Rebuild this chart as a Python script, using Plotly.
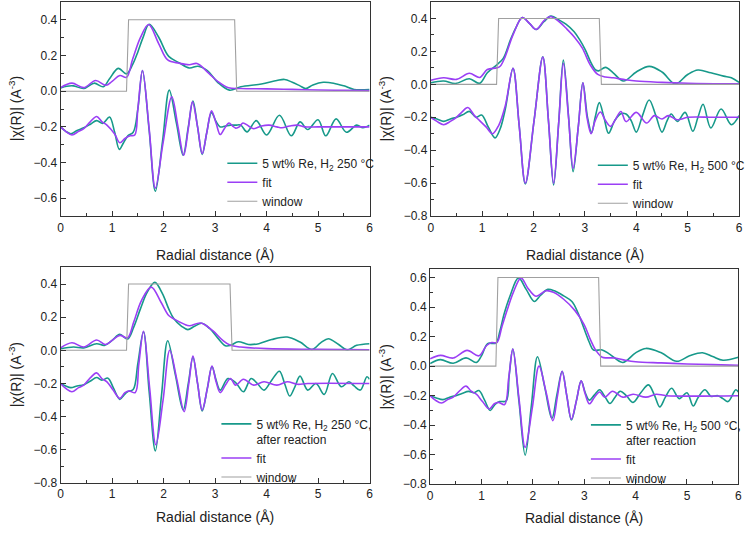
import plotly.graph_objects as go

TEAL = "#17998a"
PURPLE = "#9b3ff5"
GRAY = "#a0a0a0"

# ---------------- Panel 1 : 5 wt% Re, H2 250 °C ----------------
p1_dmag_x = [0, 0.12, 0.25, 0.45, 0.65, 0.83, 0.95, 1.12, 1.28, 1.4, 1.5, 1.6, 1.72, 1.9, 2.1, 2.3, 2.5, 2.67, 2.85, 3.05, 3.28, 3.5, 3.9, 4.2, 4.35, 4.5, 4.65, 4.76, 4.9, 5.1, 5.3, 5.5, 5.7, 6.0]
p1_dmag_y = [0.018, 0.028, 0.03, 0.015, 0.045, 0.025, 0.07, 0.128, 0.097, 0.15, 0.22, 0.3, 0.375, 0.305, 0.195, 0.16, 0.13, 0.14, 0.115, 0.05, 0.006, 0.025, 0.04, 0.06, 0.066, 0.05, 0.03, 0.015, 0.035, 0.05, 0.045, 0.03, 0.01, 0.01]
p1_fmag_x = [0, 0.22, 0.45, 0.68, 0.88, 1.0, 1.15, 1.28, 1.4, 1.55, 1.71, 1.9, 2.08, 2.3, 2.5, 2.65, 2.88, 3.05, 3.26, 3.5, 4.0, 4.5, 5.0, 5.5, 6.0]
p1_fmag_y = [0.02, 0.045, 0.02, 0.06, 0.033, 0.055, 0.088, 0.078, 0.18, 0.3, 0.374, 0.27, 0.175, 0.157, 0.148, 0.155, 0.1, 0.055, 0.019, 0.015, 0.013, 0.01, 0.007, 0.005, 0.003]
p1_dre_x = [0, 0.1, 0.2, 0.32, 0.45, 0.58, 0.7, 0.82, 0.95, 1.05, 1.14, 1.22, 1.31, 1.41, 1.5, 1.59, 1.72, 1.84, 1.98, 2.11, 2.25, 2.38, 2.48, 2.57, 2.66, 2.75, 2.84, 2.93, 3.02, 3.1, 3.2, 3.3, 3.4, 3.5, 3.62, 3.8, 4.0, 4.25, 4.48, 4.65, 4.8, 5.0, 5.15, 5.35, 5.55, 5.75, 5.87, 6.0]
p1_dre_y = [-0.2, -0.225, -0.238, -0.22, -0.205, -0.185, -0.165, -0.18, -0.145, -0.23, -0.326, -0.29, -0.249, -0.23, -0.1, 0.116, -0.22, -0.561, -0.28, 0.006, -0.18, -0.359, -0.2, -0.055, -0.2, -0.354, -0.23, -0.12, -0.17, -0.2, -0.195, -0.19, -0.19, -0.19, -0.228, -0.165, -0.245, -0.135, -0.25, -0.172, -0.215, -0.16, -0.25, -0.155, -0.23, -0.19, -0.205, -0.19]
p1_fre_x = [0, 0.1, 0.22, 0.35, 0.45, 0.58, 0.7, 0.8, 0.9, 1.05, 1.15, 1.25, 1.35, 1.44, 1.5, 1.59, 1.72, 1.84, 1.99, 2.16, 2.28, 2.39, 2.48, 2.56, 2.66, 2.75, 2.84, 2.93, 3.02, 3.1, 3.18, 3.27, 3.34, 3.4, 3.47, 3.54, 3.65, 3.75, 3.9, 4.05, 4.2, 4.3, 4.45, 4.6, 4.75, 5.0, 5.5, 6.0]
p1_fre_y = [-0.2, -0.225, -0.245, -0.225, -0.21, -0.17, -0.142, -0.17, -0.19, -0.24, -0.289, -0.265, -0.25, -0.245, -0.1, 0.116, -0.21, -0.543, -0.29, -0.031, -0.2, -0.359, -0.21, -0.06, -0.2, -0.35, -0.23, -0.11, -0.18, -0.243, -0.21, -0.178, -0.195, -0.207, -0.2, -0.178, -0.195, -0.21, -0.195, -0.19, -0.2, -0.205, -0.195, -0.19, -0.2, -0.2, -0.2, -0.2]
p1_win_x = [0, 1.28, 1.32, 3.38, 3.42, 6.0]
p1_win_y = [0, 0, 0.4, 0.4, 0, 0]

# ---------------- Panel 2 : 5 wt% Re, H2 500 °C ----------------
p2_dmag_x = [0, 0.25, 0.48, 0.75, 0.95, 1.1, 1.28, 1.41, 1.55, 1.65, 1.78, 1.92, 2.05, 2.2, 2.34, 2.5, 2.63, 2.79, 2.9, 3.01, 3.12, 3.2, 3.27, 3.4, 3.55, 3.75, 4.0, 4.25, 4.5, 4.76, 5.0, 5.2, 5.45, 5.7, 5.85, 6.0]
p2_dmag_y = [0.01, 0.02, 0.005, 0.034, 0.006, 0.07, 0.117, 0.158, 0.27, 0.34, 0.406, 0.37, 0.333, 0.38, 0.414, 0.39, 0.365, 0.319, 0.27, 0.208, 0.13, 0.09, 0.082, 0.103, 0.07, 0.02, 0.075, 0.109, 0.075, 0.003, 0.06, 0.087, 0.07, 0.05, 0.04, 0.012]
p2_fmag_x = [0, 0.25, 0.5, 0.75, 0.95, 1.1, 1.28, 1.35, 1.45, 1.6, 1.78, 1.92, 2.05, 2.2, 2.32, 2.5, 2.65, 2.8, 2.95, 3.1, 3.25, 3.4, 3.55, 3.75, 4.0, 4.5, 5.0, 6.0]
p2_fmag_y = [0.025, 0.04, 0.03, 0.067, 0.042, 0.09, 0.1, 0.11, 0.17, 0.3, 0.405, 0.37, 0.333, 0.385, 0.412, 0.38, 0.335, 0.285, 0.22, 0.12, 0.06, 0.045, 0.04, 0.03, 0.02, 0.012, 0.007, 0.003]
p2_dre_x = [0, 0.12, 0.25, 0.38, 0.5, 0.62, 0.75, 0.88, 0.99, 1.12, 1.25, 1.35, 1.45, 1.6, 1.72, 1.84, 2.01, 2.18, 2.29, 2.39, 2.49, 2.58, 2.68, 2.77, 2.87, 2.96, 3.05, 3.13, 3.2, 3.28, 3.37, 3.46, 3.58, 3.7, 3.8, 3.9, 4.0, 4.12, 4.25, 4.38, 4.5, 4.6, 4.68, 4.8, 4.95, 5.1, 5.2, 5.3, 5.45, 5.65, 5.85, 6.0]
p2_dre_y = [-0.2, -0.21, -0.225, -0.21, -0.2, -0.185, -0.164, -0.2, -0.186, -0.26, -0.325, -0.27, -0.15, 0.097, -0.25, -0.604, -0.22, 0.167, -0.22, -0.61, -0.23, 0.147, -0.19, -0.53, -0.26, 0.01, -0.2, -0.293, -0.2, -0.111, -0.2, -0.297, -0.22, -0.178, -0.18, -0.22, -0.29, -0.19, -0.095, -0.19, -0.29, -0.22, -0.18, -0.225, -0.17, -0.285, -0.2, -0.121, -0.265, -0.15, -0.245, -0.19]
p2_fre_x = [0, 0.12, 0.25, 0.38, 0.5, 0.6, 0.72, 0.85, 0.95, 1.08, 1.2, 1.32, 1.45, 1.6, 1.72, 1.84, 2.01, 2.18, 2.29, 2.39, 2.49, 2.58, 2.68, 2.77, 2.87, 2.96, 3.04, 3.12, 3.2, 3.3, 3.4, 3.5, 3.6, 3.7, 3.8, 4.0, 4.2, 4.35, 4.5, 4.62, 4.8, 5.0, 5.5, 6.0]
p2_fre_y = [-0.2, -0.225, -0.245, -0.225, -0.2, -0.17, -0.141, -0.19, -0.22, -0.26, -0.3, -0.25, -0.13, 0.097, -0.25, -0.6, -0.22, 0.165, -0.22, -0.6, -0.23, 0.127, -0.2, -0.51, -0.26, 0.01, -0.2, -0.3, -0.22, -0.168, -0.22, -0.255, -0.21, -0.165, -0.226, -0.17, -0.235, -0.19, -0.21, -0.19, -0.215, -0.2, -0.2, -0.2]
p2_win_x = [0, 1.28, 1.32, 3.28, 3.32, 6.0]
p2_win_y = [0, 0, 0.4, 0.4, 0, 0]

# ---------------- Panel 3 : 5 wt% Re, H2 250 °C, after reaction ----------------
p3_dmag_x = [0, 0.25, 0.45, 0.7, 0.85, 1.0, 1.15, 1.3, 1.42, 1.55, 1.68, 1.83, 1.98, 2.1, 2.2, 2.35, 2.47, 2.6, 2.74, 2.9, 3.05, 3.2, 3.3, 3.45, 3.65, 3.85, 4.1, 4.4, 4.65, 4.88, 5.05, 5.2, 5.4, 5.57, 5.75, 6.0]
p3_dmag_y = [0.01, 0.02, 0.015, 0.04, 0.03, 0.06, 0.096, 0.068, 0.14, 0.25, 0.35, 0.41, 0.34, 0.25, 0.19, 0.145, 0.125, 0.145, 0.163, 0.13, 0.075, 0.028, 0.03, 0.052, 0.035, 0.04, 0.065, 0.08, 0.05, 0.005, 0.045, 0.07, 0.035, 0.002, 0.03, 0.04]
p3_fmag_x = [0, 0.22, 0.45, 0.7, 0.87, 1.0, 1.15, 1.3, 1.42, 1.57, 1.76, 1.95, 2.1, 2.2, 2.4, 2.5, 2.72, 2.95, 3.15, 3.3, 3.5, 4.0, 5.0, 6.0]
p3_fmag_y = [0.015, 0.046, 0.02, 0.062, 0.035, 0.06, 0.09, 0.075, 0.17, 0.3, 0.381, 0.29, 0.21, 0.19, 0.158, 0.148, 0.165, 0.12, 0.06, 0.03, 0.02, 0.01, 0.006, 0.003]
p3_dre_x = [0, 0.1, 0.2, 0.32, 0.45, 0.58, 0.7, 0.8, 0.92, 1.03, 1.15, 1.23, 1.3, 1.41, 1.5, 1.61, 1.72, 1.84, 1.96, 2.08, 2.23, 2.38, 2.48, 2.57, 2.66, 2.75, 2.85, 2.94, 3.02, 3.1, 3.25, 3.4, 3.55, 3.7, 3.82, 3.95, 4.1, 4.25, 4.35, 4.45, 4.55, 4.65, 4.8, 4.96, 5.12, 5.28, 5.45, 5.6, 5.7, 5.82, 5.95, 6.0]
p3_dre_y = [-0.2, -0.215, -0.225, -0.215, -0.208, -0.185, -0.164, -0.18, -0.168, -0.23, -0.296, -0.27, -0.25, -0.237, -0.08, 0.112, -0.25, -0.607, -0.27, 0.058, -0.15, -0.36, -0.2, -0.042, -0.2, -0.366, -0.23, -0.098, -0.18, -0.24, -0.17, -0.195, -0.25, -0.17, -0.2, -0.24, -0.18, -0.126, -0.2, -0.276, -0.22, -0.156, -0.24, -0.2, -0.266, -0.14, -0.22, -0.19, -0.215, -0.24, -0.16, -0.175]
p3_fre_x = [0, 0.1, 0.22, 0.35, 0.45, 0.58, 0.7, 0.8, 0.9, 1.02, 1.15, 1.25, 1.33, 1.45, 1.52, 1.61, 1.73, 1.85, 1.99, 2.12, 2.26, 2.4, 2.49, 2.57, 2.66, 2.75, 2.85, 2.94, 3.02, 3.1, 3.2, 3.3, 3.4, 3.55, 3.75, 3.95, 4.2, 4.4, 4.6, 4.8, 6.0]
p3_fre_y = [-0.2, -0.23, -0.25, -0.225, -0.21, -0.165, -0.136, -0.17, -0.19, -0.24, -0.29, -0.255, -0.245, -0.255, -0.08, 0.115, -0.23, -0.57, -0.3, 0.0, -0.18, -0.37, -0.2, -0.035, -0.2, -0.36, -0.23, -0.095, -0.19, -0.255, -0.21, -0.17, -0.21, -0.175, -0.21, -0.19, -0.21, -0.19, -0.205, -0.2, -0.2]
p3_win_x = [0, 1.28, 1.32, 3.29, 3.33, 6.0]
p3_win_y = [0, 0, 0.4, 0.4, 0, 0]

# ---------------- Panel 4 : 5 wt% Re, H2 500 °C, after reaction ----------------
p4_dmag_x = [0, 0.2, 0.45, 0.7, 0.9, 1.0, 1.12, 1.28, 1.36, 1.44, 1.55, 1.72, 1.87, 2.03, 2.15, 2.29, 2.42, 2.6, 2.76, 2.88, 3.01, 3.1, 3.18, 3.35, 3.5, 3.75, 4.0, 4.2, 4.5, 4.8, 5.05, 5.3, 5.5, 5.7, 6.0]
p4_dmag_y = [0.018, 0.044, 0.02, 0.056, 0.025, 0.07, 0.153, 0.156, 0.24, 0.353, 0.47, 0.598, 0.52, 0.438, 0.48, 0.52, 0.51, 0.476, 0.438, 0.36, 0.242, 0.16, 0.109, 0.11, 0.08, 0.025, 0.09, 0.12, 0.09, 0.033, 0.07, 0.091, 0.065, 0.04, 0.06]
p4_fmag_x = [0, 0.2, 0.45, 0.72, 0.95, 1.1, 1.2, 1.3, 1.4, 1.5, 1.62, 1.77, 1.9, 2.06, 2.26, 2.4, 2.6, 2.82, 3.0, 3.12, 3.22, 3.35, 3.45, 3.6, 3.8, 4.0, 4.5, 5.0, 5.5, 6.0]
p4_fmag_y = [0.049, 0.073, 0.055, 0.107, 0.07, 0.14, 0.16, 0.16, 0.27, 0.38, 0.5, 0.598, 0.53, 0.473, 0.511, 0.5, 0.453, 0.376, 0.28, 0.18, 0.11, 0.06, 0.056, 0.055, 0.04, 0.03, 0.022, 0.015, 0.01, 0.005]
p4_dre_x = [0, 0.12, 0.25, 0.38, 0.5, 0.62, 0.75, 0.85, 0.95, 1.06, 1.17, 1.26, 1.35, 1.48, 1.54, 1.61, 1.73, 1.85, 1.97, 2.09, 2.23, 2.37, 2.47, 2.57, 2.66, 2.75, 2.85, 2.94, 3.02, 3.1, 3.2, 3.3, 3.4, 3.5, 3.6, 3.7, 3.82, 3.95, 4.1, 4.25, 4.37, 4.47, 4.58, 4.7, 4.85, 5.0, 5.12, 5.22, 5.35, 5.47, 5.6, 5.7, 5.8, 5.95, 6.0]
p4_dre_y = [-0.2, -0.215, -0.227, -0.21, -0.2, -0.185, -0.171, -0.18, -0.165, -0.23, -0.3, -0.26, -0.24, -0.235, -0.06, 0.116, -0.24, -0.603, -0.27, 0.064, -0.14, -0.355, -0.19, -0.035, -0.2, -0.365, -0.23, -0.1, -0.18, -0.23, -0.195, -0.16, -0.205, -0.253, -0.21, -0.17, -0.2, -0.245, -0.18, -0.127, -0.2, -0.276, -0.21, -0.15, -0.22, -0.18, -0.27, -0.21, -0.16, -0.205, -0.2, -0.22, -0.24, -0.16, -0.175]
p4_fre_x = [0, 0.1, 0.22, 0.35, 0.45, 0.58, 0.7, 0.8, 0.9, 1.02, 1.15, 1.25, 1.33, 1.45, 1.53, 1.61, 1.73, 1.85, 1.99, 2.12, 2.26, 2.39, 2.48, 2.57, 2.66, 2.75, 2.85, 2.94, 3.02, 3.1, 3.2, 3.3, 3.4, 3.55, 3.75, 3.95, 4.2, 4.4, 4.6, 6.0]
p4_fre_y = [-0.2, -0.23, -0.25, -0.225, -0.21, -0.165, -0.135, -0.17, -0.19, -0.24, -0.29, -0.255, -0.245, -0.26, -0.08, 0.115, -0.22, -0.55, -0.28, 0.0, -0.18, -0.37, -0.2, -0.035, -0.2, -0.36, -0.23, -0.1, -0.19, -0.255, -0.21, -0.175, -0.21, -0.17, -0.21, -0.19, -0.21, -0.19, -0.2, -0.2]
p4_win_x = [0, 1.28, 1.32, 3.28, 3.32, 6.0]
p4_win_y = [0, 0, 0.6, 0.6, 0, 0]

labels = [
    "5 wt% Re, H<sub>2</sub> 250 °C",
    "5 wt% Re, H<sub>2</sub> 500 °C",
    "5 wt% Re, H<sub>2</sub> 250 °C,<br>after reaction",
    "5 wt% Re, H<sub>2</sub> 500 °C,<br>after reaction",
]

panels = [
    (p1_dmag_x, p1_dmag_y, p1_fmag_x, p1_fmag_y, p1_dre_x, p1_dre_y, p1_fre_x, p1_fre_y, p1_win_x, p1_win_y),
    (p2_dmag_x, p2_dmag_y, p2_fmag_x, p2_fmag_y, p2_dre_x, p2_dre_y, p2_fre_x, p2_fre_y, p2_win_x, p2_win_y),
    (p3_dmag_x, p3_dmag_y, p3_fmag_x, p3_fmag_y, p3_dre_x, p3_dre_y, p3_fre_x, p3_fre_y, p3_win_x, p3_win_y),
    (p4_dmag_x, p4_dmag_y, p4_fmag_x, p4_fmag_y, p4_dre_x, p4_dre_y, p4_fre_x, p4_fre_y, p4_win_x, p4_win_y),
]

W, H = 750, 535
# plot-area pixel boxes (left, right, top, bottom)
boxes = [(58.3, 371, 2, 219), (433, 745, 2, 219), (58.3, 371, 271, 489.3), (432.3, 744.3, 273, 490.7)]
yranges = [[-0.7, 0.5], [-0.8, 0.5], [-0.8, 0.5], [-0.8, 0.655]]
legend_pos = [(222, 151), (597, 153), (216, 415), (590, 416)]
xtitle_gap = [39, 39, 35, 34]

fig = go.Figure()
FONT = "Liberation Sans, Arial, sans-serif"

for i, (dmx, dmy, fmx, fmy, drx, dry, frx, fry, wx, wy) in enumerate(panels):
    n = "" if i == 0 else str(i + 1)
    xa, ya, lg = "x" + n, "y" + n, "legend" + n
    common = dict(xaxis=xa, yaxis=ya, legend=lg, mode="lines")
    fig.add_trace(go.Scatter(x=dmx, y=dmy, name=labels[i], line=dict(color=TEAL, width=1.6, shape="spline", smoothing=1.0), legendrank=1, **common))
    fig.add_trace(go.Scatter(x=drx, y=dry, name=labels[i], showlegend=False, line=dict(color=TEAL, width=1.6, shape="spline", smoothing=1.0), **common))
    fig.add_trace(go.Scatter(x=fmx, y=fmy, name="fit", line=dict(color=PURPLE, width=1.6, shape="spline", smoothing=1.0), legendrank=2, **common))
    fig.add_trace(go.Scatter(x=frx, y=fry, name="fit", showlegend=False, line=dict(color=PURPLE, width=1.6, shape="spline", smoothing=1.0), **common))
    fig.add_trace(go.Scatter(x=wx, y=wy, name="window", line=dict(color=GRAY, width=1.1), legendrank=3, **common))

    l, r, t, b = boxes[i]
    axis_common = dict(showline=True, linecolor="#333333", linewidth=1, mirror=True, showgrid=False,
                       zeroline=False, ticks="inside", ticklen=5, tickcolor="#333333",
                       tickfont=dict(size=12, color="#222222", family=FONT))
    fig.layout["xaxis" + n] = dict(domain=[l / W, r / W], range=[0, 6], dtick=1, anchor=ya,
                                   minor=dict(dtick=0.5, ticks="inside", ticklen=3, tickcolor="#333333"),
                                   **axis_common)
    fig.layout["yaxis" + n] = dict(domain=[1 - b / H, 1 - t / H], range=yranges[i], dtick=0.2, tick0=0,
                                   tickformat=".1f", anchor=xa,
                                   minor=dict(dtick=0.1, ticks="inside", ticklen=3, tickcolor="#333333"),
                                   **axis_common)
    lx, ly = legend_pos[i]
    fig.layout[lg] = dict(x=lx / W, y=1 - ly / H, xanchor="left", yanchor="top", bgcolor="rgba(0,0,0,0)",
                          borderwidth=0, font=dict(size=12, color="#222222", family=FONT),
                          itemwidth=30, valign="top", tracegroupgap=0)

    # axis titles
    fig.add_annotation(text="Radial distance (Å)", xref="paper", yref="paper", x=(l + r) / 2 / W,
                       y=1 - (b + xtitle_gap[i]) / H, xanchor="center", yanchor="middle", showarrow=False,
                       font=dict(size=14, color="#222222", family=FONT))
    fig.add_annotation(text="|χ(R)| (A<sup>-3</sup>)", xref="paper", yref="paper", x=(l - 46) / W,
                       y=1 - (t + b) / 2 / H, xanchor="center", yanchor="middle", textangle=-90,
                       showarrow=False, font=dict(size=14, color="#222222", family=FONT))

fig.update_layout(width=W, height=H, margin=dict(l=0, r=0, t=0, b=0), paper_bgcolor="white",
                  plot_bgcolor="white", font=dict(family=FONT))
fig.write_html("out.html")
